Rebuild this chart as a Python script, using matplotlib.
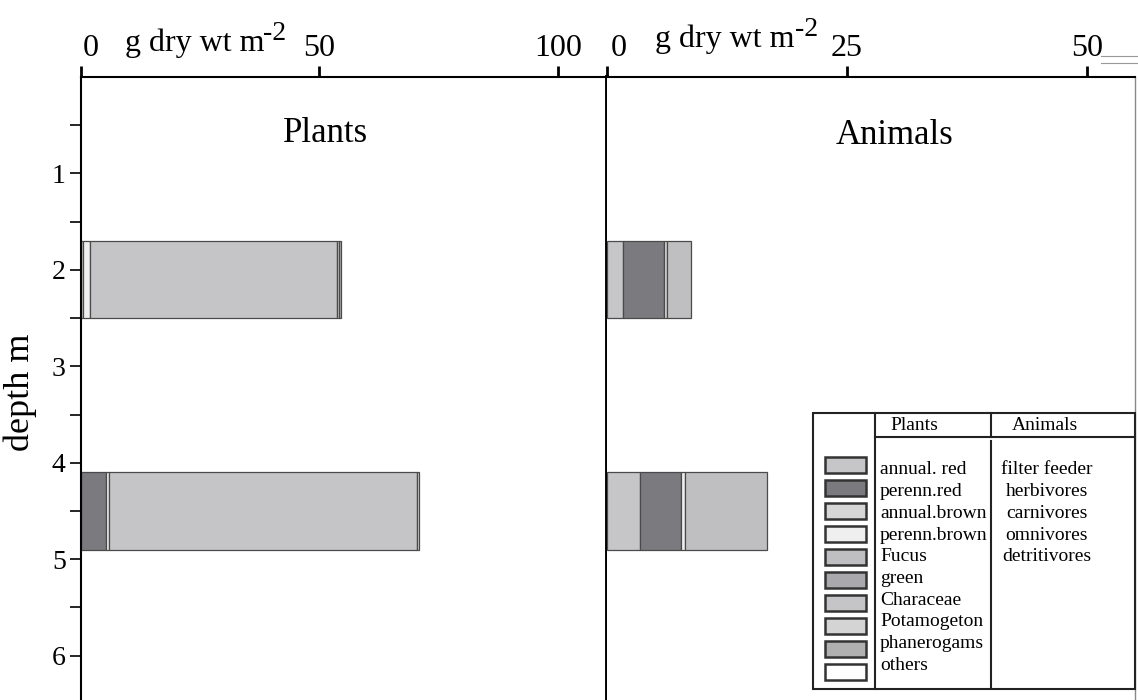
import matplotlib
matplotlib.use("Agg")
import matplotlib.pyplot as plt
from matplotlib.patches import Rectangle
from matplotlib.transforms import ScaledTranslation

plt.rcParams['font.family'] = ['Liberation Serif', 'DejaVu Serif']

# depth of the two sampled stations (m)
depths = [2.1, 4.5]

plant_names = ["annual. red", "perenn.red", "annual.brown", "perenn.brown", "Fucus",
               "green", "Characeae", "Potamogeton", "phanerogams", "others"]
plants_upper = [0, 0, 0.5, 1.4, 0, 0, 51.8, 0.4, 0.5, 0]
plants_lower = [0, 5.2, 0, 0.7, 0, 0, 64.6, 0.4, 0, 0]

animal_names = ["filter feeder", "herbivores", "carnivores", "omnivores", "detritivores"]
animals_upper = [1.7, 4.2, 0.3, 0, 2.6]
animals_lower = [3.4, 4.3, 0, 0.4, 8.6]

swatch_colors = ["#c6c6c9", "#7b7b7f", "#d6d6d6", "#efefef", "#bfbfc2",
                 "#a9a9ad", "#c5c5c8", "#d4d4d4", "#b0b0b0", "#ffffff"]

W, H = 1138, 700
fig = plt.figure(figsize=(W / 100, H / 100), dpi=100)

ax1 = fig.add_axes([81 / W, 0, (607 - 81) / W, (700 - 77) / H])
ax2 = fig.add_axes([607 / W, 0, (1135 - 607) / W, (700 - 77) / H])


def stack(ax, values_by_depth):
    for d, vals in zip(depths, values_by_depth):
        left = 0
        for i, v in enumerate(vals):
            if v > 0:
                ax.barh(d, v, left=left, height=0.8, color=swatch_colors[i],
                        edgecolor="#4a4a4a", linewidth=0.9, zorder=2)
            left += v


stack(ax1, [plants_upper, plants_lower])
stack(ax2, [animals_upper, animals_lower])

ax1.set_xlim(0, 110.3)
ax2.set_xlim(0, 55)
for ax in (ax1, ax2):
    ax.set_ylim(6.46, 0)
    ax.xaxis.tick_top()
    ax.spines['bottom'].set_visible(False)
    ax.spines['top'].set_linewidth(1.5)
    ax.tick_params(axis='x', direction='out', length=8, width=2, labelsize=23, pad=2)

ax1.set_xticks([0, 50, 100])
ax2.set_xticks([0, 25, 50])
ax1.spines['left'].set_linewidth(1.5)
ax1.spines['right'].set_linewidth(2.8)
ax2.spines['left'].set_visible(False)
ax2.spines['right'].set_linewidth(1.0)
ax2.spines['right'].set_color('#888888')

ax1.set_yticks([1, 2, 3, 4, 5, 6])
ax1.set_yticks([0.5, 1.5, 2.5, 3.5, 4.5, 5.5], minor=True)
ax1.tick_params(axis='y', which='both', direction='out', length=8, width=1.2,
                labelsize=20, pad=3)
ax2.set_yticks([])

# shift the "0" labels to the right of their tick, as in the original
for ax, dx in ((ax1, 0.10), (ax2, 0.12)):
    lab = ax.get_xticklabels()[0]
    lab.set_transform(lab.get_transform() + ScaledTranslation(dx, 0, fig.dpi_scale_trans))

# overlay in pixel coordinates for the free text and the legend table
lg = fig.add_axes([0, 0, 1, 1])
lg.set_xlim(0, W)
lg.set_ylim(H, 0)
lg.axis('off')

lg.text(125, 51, "g dry wt m", fontsize=23, va='baseline', ha='left')
lg.text(263, 40, "-2", fontsize=20, va='baseline', ha='left')
lg.text(655, 47, "g dry wt m", fontsize=23, va='baseline', ha='left')
lg.text(795, 36, "-2", fontsize=20, va='baseline', ha='left')

lg.text(326, 142, "Plants", fontsize=25, ha='center', va='baseline')
lg.text(895, 144, "Animals", fontsize=25, ha='center', va='baseline')
lg.text(20, 392, "depth m", fontsize=26, rotation=90, ha='center', va='center')

lg.add_patch(Rectangle((813, 413), 1135 - 813, 689 - 413, facecolor='white',
                       edgecolor='#222222', linewidth=1.5))
lg.plot([875, 875], [413, 689], color='#222222', lw=1.5)
lg.plot([875, 1135], [437, 437], color='#222222', lw=1.5)
lg.plot([991, 991], [413, 437], color='#222222', lw=1.5)
lg.plot([991, 991], [441, 687], color='#222222', lw=1.5)
lg.text(890, 426, "Plants", fontsize=14, ha='left', va='center')
lg.text(1045, 426, "Animals", fontsize=14, ha='center', va='center')

for i, name in enumerate(plant_names):
    lg.add_patch(Rectangle((825, 457 + i * 23.0), 41, 16, facecolor=swatch_colors[i],
                           edgecolor='#333333', linewidth=1.8))
    lg.text(880, 470 + i * 21.7, name, fontsize=14, ha='left', va='center')
for i, name in enumerate(animal_names):
    lg.text(1047, 470 + i * 21.7, name, fontsize=14, ha='center', va='center')

# stray double rule at the top right of the scan
lg.plot([1101, 1138], [56, 56], color='#999999', lw=0.8)
lg.plot([1101, 1138], [63, 63], color='#999999', lw=0.8)

fig.savefig("out.png", dpi=100)
